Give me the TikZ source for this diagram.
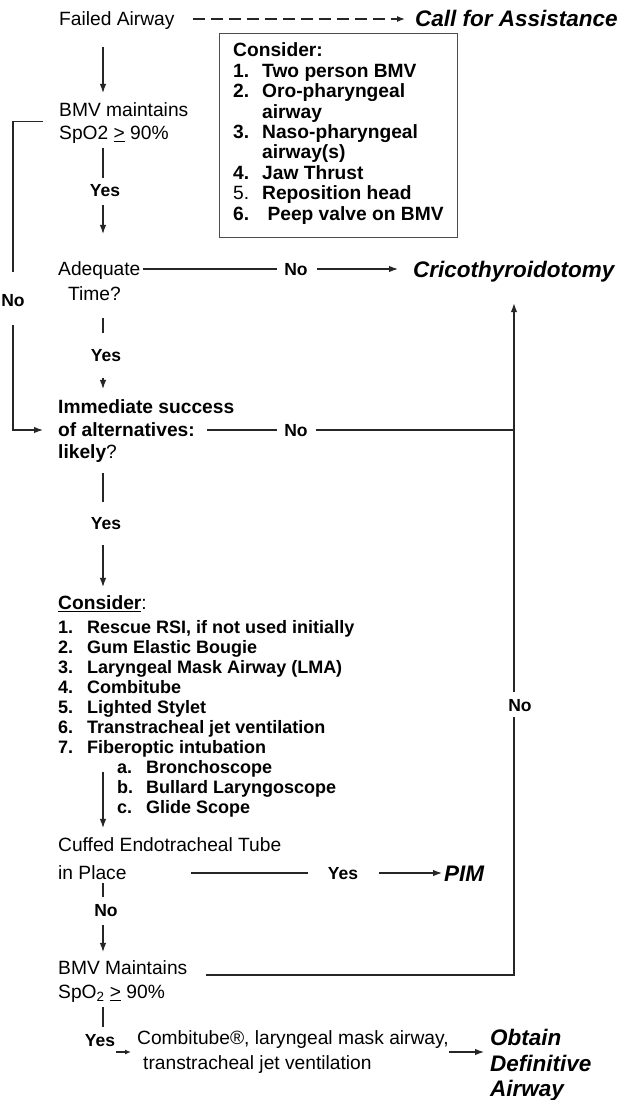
\documentclass[tikz,border=0pt]{standalone}
\usepackage{fontspec}
\setmainfont{Liberation Sans}
\usetikzlibrary{arrows.meta,calc}
\begin{document}
\begin{tikzpicture}[x=1pt,y=-1pt,
  txt/.style={inner sep=0pt, anchor=west, text height=13.7pt, text depth=0pt, font=\fontsize{19.2}{20}\selectfont},
  btxt/.style={txt, font=\fontsize{19.2}{20}\selectfont\bfseries},
  ltxt/.style={inner sep=0pt, anchor=west, text height=13pt, text depth=0pt, font=\fontsize{18}{20}\selectfont\bfseries},
  big/.style={inner sep=0pt, anchor=west, text height=16pt, text depth=0pt, font=\fontsize{22.5}{25.5}\selectfont\bfseries\itshape},
  lbl/.style={inner sep=0pt, anchor=center, text height=12.5pt, text depth=0pt, font=\fontsize{17.5}{19}\selectfont\bfseries},
  ln/.style={line width=1.2pt, black!85},
  arr/.style={ln, -{Latex[length=9pt,width=6.5pt]}},
  smallarr/.style={ln, -{Latex[length=6pt,width=5pt]}},
  dasharr/.style={ln, dash pattern=on 12pt off 6pt, -{Latex[length=8pt,width=6pt]}},
  boxst/.style={draw=black!70, line width=1.3pt, inner sep=0pt, minimum width=238pt, minimum height=204pt, anchor=north west}
]
\useasboundingbox (0,0) rectangle (633,1100);
\coordinate (spine) at (103,0);
\coordinate (lx) at (13,0);
\coordinate (corner) at (514,975);

% top
\node[txt] (failed) at (59,19) {Failed Airway};
\node[big] (call) at (415,19) {Call for Assistance};
\draw[dasharr, shorten <=18pt, shorten >=10pt] (failed.east) -- (call.west);

% box
\node[boxst] (box) at (219,33) {};
\node[btxt] (bc) at (233,50) {Consider:};
\foreach \n/\t [count=\i] in {1./Two person BMV, 2./Oro-pharyngeal, /airway, 3./Naso-pharyngeal, /airway(s), 4./Jaw Thrust, {\mdseries 5.}/Reposition head, 6./\ Peep valve on BMV}{
  \node[btxt] (bn\i) at (233,{50+20.4*\i}) {\n};
  \node[btxt] (bt\i) at (262,{50+20.4*\i}) {\t};
}

% BMV maintains
\node[txt] (bmv1) at (59,110) {BMV maintains};
\node[txt] (spo1) at (59,133) {SpO2 \underline{>} 90\%};
\draw[arr, shorten <=21pt, shorten >=10pt] (failed.south -| spine) -- (bmv1.north -| spine);
\node[lbl] (y1) at (105,190) {Yes};
\draw[ln, shorten <=8pt, shorten >=6pt] (spo1.south -| spine) -- (y1.north -| spine);

% left No loop
\node[lbl] (noL) at (13,300) {No};
\draw[ln, shorten >=22pt] ($(bmv1.west)!.5!(spo1.west)+(-16,0)$) -| (noL.north);

% Adequate time
\node[txt] (adeq) at (58,269) {Adequate};
\node[txt] (time) at (68,294) {Time?};
\draw[arr, shorten <=9pt, shorten >=28pt] (y1.south -| spine) -- (adeq.north -| spine);
\node[lbl] (no1) at (296,269) {No};
\node[big] (crico) at (413,269) {Cricothyroidotomy};
\draw[ln, shorten <=2pt, shorten >=7pt] (adeq.east) -- (no1.west);
\draw[arr, shorten <=9pt, shorten >=15pt] (no1.east) -- (crico.west);

\node[lbl] (y2) at (106,355) {Yes};
\draw[ln, shorten <=17pt, shorten >=16pt] (time.south -| spine) -- (y2.north -| spine);

% Immediate success
\node[btxt] (imm) at (58,407) {Immediate success};
\node[btxt] (alt) at (58,430) {of alternatives:};
\node[btxt] (likely) at (58,452) {likely{\mdseries ?}};
\draw[arr, shorten <=17pt, shorten >=11pt] (y2.south -| spine) -- (imm.north -| spine);
\draw[arr, shorten <=19pt, shorten >=15pt] (noL.south) |- (alt.west);
\node[lbl] (no2) at (296,430) {No};
\draw[ln, shorten <=12pt, shorten >=7pt] (alt.east) -- (no2.west);
\draw[ln, shorten <=8pt] (no2.east) -- (no2.east -| corner);

\node[lbl] (y3) at (106,523) {Yes};
\draw[ln, shorten <=14pt, shorten >=15pt] (likely.south -| spine) -- (y3.north -| spine);

% lower Consider list
\node[btxt] (cons) at (58,603) {\underline{Consider}{\mdseries :}};
\draw[arr, shorten <=16pt, shorten >=9pt] (y3.south -| spine) -- (cons.north -| spine);
\foreach \n/\t [count=\i] in {1./{Rescue RSI, if not used initially}, 2./Gum Elastic Bougie, 3./Laryngeal Mask Airway (LMA), 4./Combitube, 5./Lighted Stylet, 6./Transtracheal jet ventilation, 7./Fiberoptic intubation}{
  \node[ltxt] (ln\i) at (58,{627+20*(\i-1)}) {\n};
  \node[ltxt] (lt\i) at (87,{627+20*(\i-1)}) {\t};
}
\foreach \n/\t [count=\i from 8] in {a./Bronchoscope, b./Bullard Laryngoscope, c./Glide Scope}{
  \node[ltxt] (ln\i) at (117,{627+20*(\i-1)}) {\n};
  \node[ltxt] (lt\i) at (146,{627+20*(\i-1)}) {\t};
}

% Cuffed tube
\node[txt] (cuffed) at (58,845) {Cuffed Endotracheal Tube};
\node[txt] (inplace) at (58,873) {in Place};
\draw[arr, shorten <=18pt, shorten >=10pt] (lt7.south -| spine) -- (cuffed.north -| spine);
\node[lbl] (y4) at (343,873) {Yes};
\node[big] (pim) at (444,873) {PIM};
\draw[ln, shorten <=64pt, shorten >=20pt] (inplace.east) -- (y4.west);
\draw[arr, shorten <=21pt, shorten >=2pt] (y4.east) -- (pim.west);

\node[lbl] (no4) at (106,910) {No};
\draw[ln, shorten <=3pt, shorten >=7pt] (inplace.south -| spine) -- (no4.north -| spine);

% BMV Maintains
\node[txt] (bmv2) at (58,968) {BMV Maintains};
\node[txt] (spo2) at (58,992) {SpO\textsubscript{2} \underline{>} 90\%};
\draw[arr, shorten <=9pt, shorten >=9pt] (no4.south -| spine) -- (bmv2.north -| spine);

% right return line
\node[lbl] (no3) at (520,705) {No};
\draw[ln, shorten <=18pt, shorten >=6pt] (corner -| bmv2.east) -- (corner) -- (corner |- no3.south);
\draw[arr, shorten <=7pt, shorten >=26pt] (corner |- no3.north) -- (corner |- crico.south);

% bottom
\node[lbl] (y5) at (100,1040) {Yes};
\draw[ln, shorten <=8pt, shorten >=7pt] (spo2.south -| spine) -- (y5.north -| spine);
\node[inner sep=0pt, anchor=west, align=left, font=\fontsize{19.2}{25}\selectfont] (combi) at (137,1052) {Combitube®, laryngeal mask airway,\\\hspace{6pt}transtracheal jet ventilation};
\draw[smallarr, shorten <=1pt, shorten >=6pt] (y5.east |- combi.west) -- (combi.west);
\node[inner sep=0pt, anchor=north west, align=left, font=\fontsize{22.5}{25.5}\selectfont\bfseries\itshape] (obtain) at (490,1029) {Obtain\\Definitive\\Airway};
\draw[arr, shorten >=6pt] (combi.east) -- (combi.east -| obtain.west);
\end{tikzpicture}
\end{document}
